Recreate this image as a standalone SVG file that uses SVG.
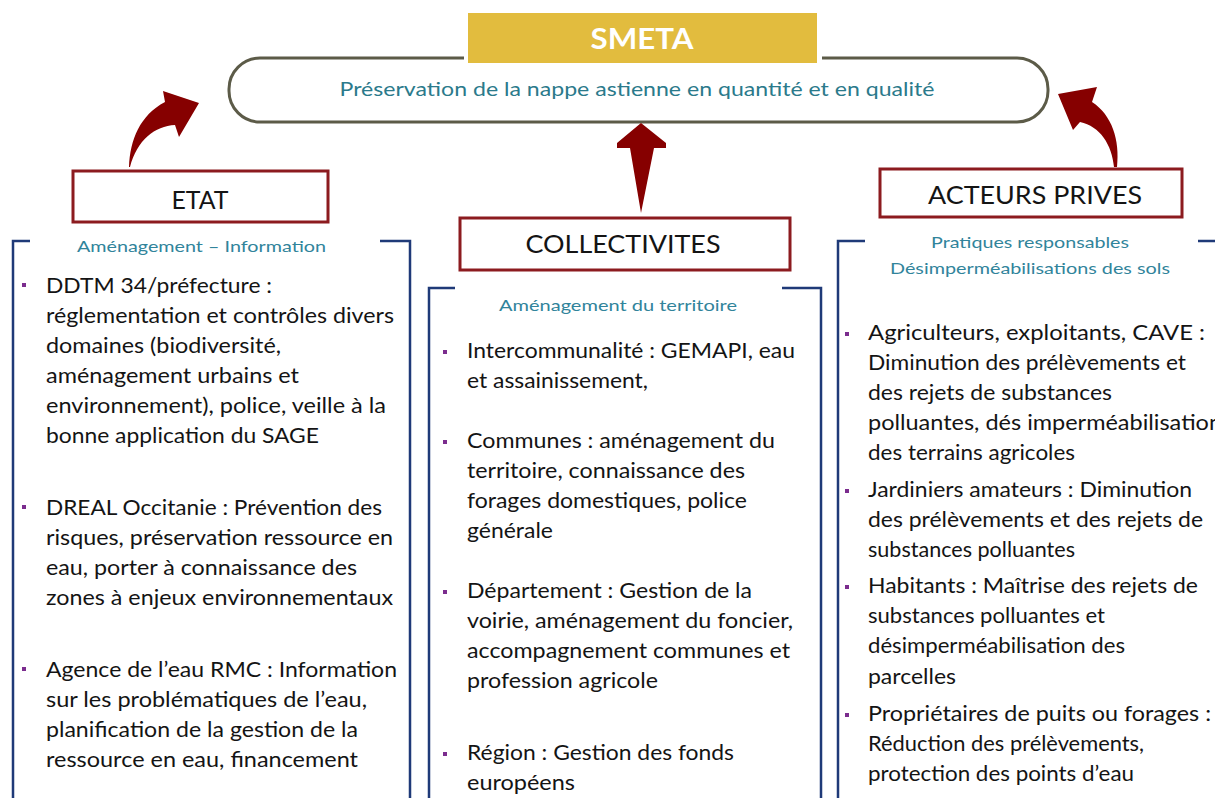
<svg xmlns="http://www.w3.org/2000/svg" width="1215" height="798" viewBox="0 0 1215 798">
<style>
.t{font-family:Lato,"Liberation Sans",sans-serif;font-size:21px;fill:#141414}
.s{font-family:Lato,"Liberation Sans",sans-serif;font-size:16px;fill:#31849B}
.h{font-family:Lato,"Liberation Sans",sans-serif;font-size:25px;fill:#141414;text-anchor:middle}
.box{fill:#fff;stroke:#8C1B1F;stroke-width:3}
.br{fill:none;stroke:#1F3A78;stroke-width:2.5}
.ar{fill:#860000}
.b{fill:#7B2C8E}
</style>
<rect width="1215" height="798" fill="#fff"/>

<g id="smeta">
  <rect x="229" y="58" width="819" height="64" rx="31" fill="#fff" stroke="#5C5B48" stroke-width="3"/>
  <rect x="464" y="10" width="358" height="55" fill="#fff"/>
  <rect x="468" y="13" width="349" height="50" fill="#E2BC3E"/>
  <text x="642" y="49" text-anchor="middle" font-family="Lato,'Liberation Sans',sans-serif" font-size="28" font-weight="bold" fill="#fff" textLength="103" lengthAdjust="spacingAndGlyphs">SMETA</text>
  <text x="637" y="96" text-anchor="middle" font-family="Lato,'Liberation Sans',sans-serif" font-size="19" fill="#2B7A8B" textLength="595" lengthAdjust="spacingAndGlyphs">Préservation de la nappe astienne en quantité et en qualité</text>
</g>

<g id="connectors">
  <path class="ar" d="M129,167 C130,140 140,115 165,102 L163,91 L199,103 L179,137 L175,125 C155,126 137,140 130,167 Z"/>
  <path class="ar" d="M641,123 L666,143 L666,148 L654,148 L641,213 L630,148 L617,148 L617,143 Z"/>
  <path class="ar" d="M1117,167 C1120,140 1112,115 1092,102 L1097,87 L1058,94 L1073,130 L1080,122 C1100,126 1112,145 1114,167 Z"/>
</g>

<g id="etat">
  <rect class="box" x="73" y="171" width="255" height="51"/>
  <text class="h" x="200" y="209" textLength="57" lengthAdjust="spacingAndGlyphs">ETAT</text>
  <path class="br" d="M30,241 H13 V798 M380,241 H410 V798"/>
  <text class="s" x="77" y="252" textLength="249" lengthAdjust="spacingAndGlyphs">Aménagement – Information</text>
  <rect class="b" x="22" y="283" width="4" height="4"/>
  <rect class="b" x="22" y="505" width="4" height="4"/>
  <rect class="b" x="22" y="667" width="4" height="4"/>
  <text class="t" x="46" y="293" textLength="226" lengthAdjust="spacingAndGlyphs">DDTM 34/préfecture :</text>
  <text class="t" x="46" y="323" textLength="348" lengthAdjust="spacingAndGlyphs">réglementation et contrôles divers</text>
  <text class="t" x="46" y="353" textLength="235" lengthAdjust="spacingAndGlyphs">domaines (biodiversité,</text>
  <text class="t" x="46" y="383" textLength="253" lengthAdjust="spacingAndGlyphs">aménagement urbains et</text>
  <text class="t" x="46" y="413" textLength="340" lengthAdjust="spacingAndGlyphs">environnement), police, veille à la</text>
  <text class="t" x="46" y="443" textLength="273" lengthAdjust="spacingAndGlyphs">bonne application du SAGE</text>
  <text class="t" x="46" y="515" textLength="336" lengthAdjust="spacingAndGlyphs">DREAL Occitanie : Prévention des</text>
  <text class="t" x="46" y="545" textLength="347" lengthAdjust="spacingAndGlyphs">risques, préservation ressource en</text>
  <text class="t" x="46" y="575" textLength="311" lengthAdjust="spacingAndGlyphs">eau, porter à connaissance des</text>
  <text class="t" x="46" y="605" textLength="347" lengthAdjust="spacingAndGlyphs">zones à enjeux environnementaux</text>
  <text class="t" x="46" y="677" textLength="351" lengthAdjust="spacingAndGlyphs">Agence de l’eau RMC : Information</text>
  <text class="t" x="46" y="707" textLength="321" lengthAdjust="spacingAndGlyphs">sur les problématiques de l’eau,</text>
  <text class="t" x="46" y="737" textLength="312" lengthAdjust="spacingAndGlyphs">planification de la gestion de la</text>
  <text class="t" x="46" y="767" textLength="312" lengthAdjust="spacingAndGlyphs">ressource en eau, financement</text>
</g>

<g id="collectivites">
  <rect class="box" x="460" y="218" width="330" height="52"/>
  <text class="h" x="623" y="253" textLength="195" lengthAdjust="spacingAndGlyphs">COLLECTIVITES</text>
  <path class="br" d="M455,288 H429 V798 M782,288 H821 V798"/>
  <text class="s" x="499" y="311" textLength="238" lengthAdjust="spacingAndGlyphs">Aménagement du territoire</text>
  <rect class="b" x="443" y="350" width="4" height="4"/>
  <rect class="b" x="443" y="440" width="4" height="4"/>
  <rect class="b" x="443" y="590" width="4" height="4"/>
  <rect class="b" x="443" y="752" width="4" height="4"/>
  <text class="t" x="467" y="358" textLength="328" lengthAdjust="spacingAndGlyphs">Intercommunalité : GEMAPI, eau</text>
  <text class="t" x="467" y="388" textLength="181" lengthAdjust="spacingAndGlyphs">et assainissement,</text>
  <text class="t" x="467" y="448" textLength="308" lengthAdjust="spacingAndGlyphs">Communes : aménagement du</text>
  <text class="t" x="467" y="478" textLength="278" lengthAdjust="spacingAndGlyphs">territoire, connaissance des</text>
  <text class="t" x="467" y="508" textLength="280" lengthAdjust="spacingAndGlyphs">forages domestiques, police</text>
  <text class="t" x="467" y="538" textLength="86" lengthAdjust="spacingAndGlyphs">générale</text>
  <text class="t" x="467" y="598" textLength="285" lengthAdjust="spacingAndGlyphs">Département : Gestion de la</text>
  <text class="t" x="467" y="628" textLength="326" lengthAdjust="spacingAndGlyphs">voirie, aménagement du foncier,</text>
  <text class="t" x="467" y="658" textLength="323" lengthAdjust="spacingAndGlyphs">accompagnement communes et</text>
  <text class="t" x="467" y="688" textLength="191" lengthAdjust="spacingAndGlyphs">profession agricole</text>
  <text class="t" x="467" y="760" textLength="267" lengthAdjust="spacingAndGlyphs">Région : Gestion des fonds</text>
  <text class="t" x="467" y="790" textLength="108" lengthAdjust="spacingAndGlyphs">européens</text>
</g>

<g id="acteurs-prives">
  <rect class="box" x="880" y="169" width="302" height="48"/>
  <text class="h" x="1035" y="204" textLength="214" lengthAdjust="spacingAndGlyphs">ACTEURS PRIVES</text>
  <path class="br" d="M865,241 H838 V798 M1198,241 H1215"/>
  <text class="s" x="1030" y="248" text-anchor="middle" textLength="198" lengthAdjust="spacingAndGlyphs">Pratiques responsables</text>
  <text class="s" x="1030" y="274" text-anchor="middle" textLength="280" lengthAdjust="spacingAndGlyphs">Désimperméabilisations des sols</text>
  <rect class="b" x="845" y="332" width="4" height="4"/>
  <rect class="b" x="845" y="489" width="4" height="4"/>
  <rect class="b" x="845" y="585" width="4" height="4"/>
  <rect class="b" x="845" y="713" width="4" height="4"/>
  <text class="t" x="868" y="340" textLength="337" lengthAdjust="spacingAndGlyphs">Agriculteurs, exploitants, CAVE :</text>
  <text class="t" x="868" y="370" textLength="318" lengthAdjust="spacingAndGlyphs">Diminution des prélèvements et</text>
  <text class="t" x="868" y="400" textLength="244" lengthAdjust="spacingAndGlyphs">des rejets de substances</text>
  <text class="t" x="868" y="430" textLength="354" lengthAdjust="spacingAndGlyphs">polluantes, dés imperméabilisation</text>
  <text class="t" x="868" y="460" textLength="207" lengthAdjust="spacingAndGlyphs">des terrains agricoles</text>
  <text class="t" x="868" y="497" textLength="324" lengthAdjust="spacingAndGlyphs">Jardiniers amateurs : Diminution</text>
  <text class="t" x="868" y="527" textLength="335" lengthAdjust="spacingAndGlyphs">des prélèvements et des rejets de</text>
  <text class="t" x="868" y="557" textLength="207" lengthAdjust="spacingAndGlyphs">substances polluantes</text>
  <text class="t" x="868" y="593" textLength="330" lengthAdjust="spacingAndGlyphs">Habitants : Maîtrise des rejets de</text>
  <text class="t" x="868" y="623" textLength="237" lengthAdjust="spacingAndGlyphs">substances polluantes et</text>
  <text class="t" x="868" y="653" textLength="257" lengthAdjust="spacingAndGlyphs">désimperméabilisation des</text>
  <text class="t" x="868" y="684" textLength="88" lengthAdjust="spacingAndGlyphs">parcelles</text>
  <text class="t" x="868" y="721" textLength="343" lengthAdjust="spacingAndGlyphs">Propriétaires de puits ou forages :</text>
  <text class="t" x="868" y="751" textLength="276" lengthAdjust="spacingAndGlyphs">Réduction des prélèvements,</text>
  <text class="t" x="868" y="781" textLength="266" lengthAdjust="spacingAndGlyphs">protection des points d’eau</text>
</g>
</svg>
